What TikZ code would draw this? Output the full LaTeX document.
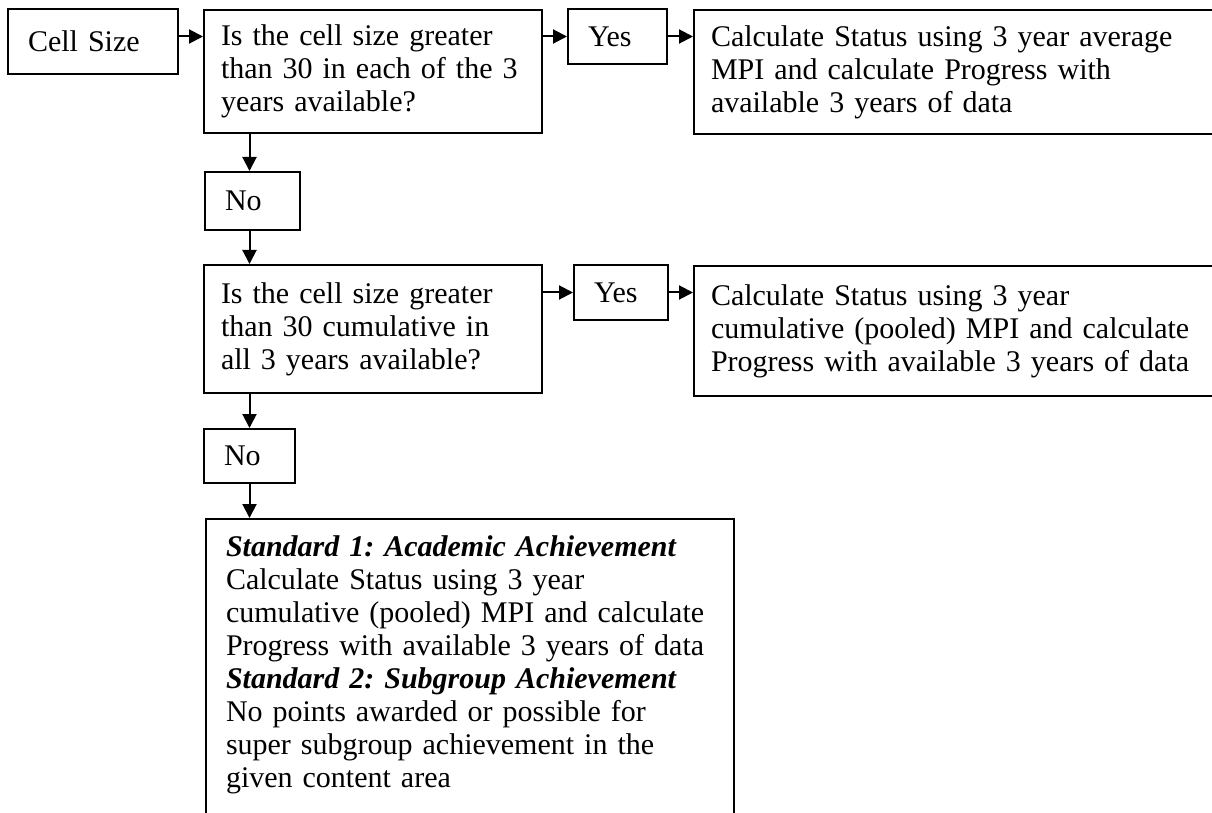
\documentclass[tikz,border=0pt]{standalone}
\usepackage{fontspec}
\setmainfont{Liberation Serif}
\usetikzlibrary{arrows.meta}
\frenchspacing
\hyphenpenalty=10000
\exhyphenpenalty=10000

\begin{document}
\begin{tikzpicture}[x=0.5pt,y=-0.5pt,
  box/.style={draw,line width=1pt,anchor=north west,align=left,inner xsep=10pt,inner ysep=0pt,font=\fontsize{15pt}{16.5pt}\selectfont},
  arr/.style={line width=1pt,-{Triangle[length=7pt,width=7pt]}}]
\useasboundingbox (0,0) rectangle (1212,813);
\clip (0,0) rectangle (1212,813);
\node[box,text width=65pt,minimum height=32.5pt] (cs) at (7,8) {Cell Size};
\node[box,inner xsep=8.5pt,text width=152pt,minimum height=61.5pt] (q1) at (203,9) {Is the cell size greater\\ than 30 in each of the 3\\ years available?};
\node[box,text width=29.5pt,minimum height=27.5pt] (y1) at (567,8) {Yes};
\node[box,inner xsep=8.5pt,text width=262pt,minimum height=62pt] (r1) at (693,9) {Calculate Status using 3 year average\\ MPI and calculate Progress with\\ available 3 years of data};
\node[box,text width=27.5pt,minimum height=29pt] (n1) at (204,171) {No};
\node[box,inner xsep=8.5pt,text width=152pt,minimum height=64pt] (q2) at (203,264) {Is the cell size greater\\ than 30 cumulative in\\ all 3 years available?};
\node[box,text width=27pt,minimum height=27.5pt] (y2) at (573,264) {Yes};
\node[box,inner xsep=8.5pt,text width=262pt,minimum height=65pt] (r2) at (693,265) {Calculate Status using 3 year\\ cumulative (pooled) MPI and calculate\\ Progress with available 3 years of data};
\node[box,text width=25.5pt,minimum height=27pt] (n2) at (203,428) {No};
\node[box,text width=244pt,inner ysep=8.5pt,text depth=140pt] (out) at (205,518) {\textbf{\textit{Standard 1: Academic Achievement}}\\ Calculate Status using 3 year\\ cumulative (pooled) MPI and calculate\\ Progress with available 3 years of data\\ \textbf{\textit{Standard 2: Subgroup Achievement}}\\ No points awarded or possible for\\ super subgroup achievement in the\\ given content area};
% yes branches
\draw[arr] (cs.east |- y1.west) -- (q1.west |- y1.west);
\draw[arr] (q1.east |- y1.west) -- (y1.west);
\draw[arr] (y1.east) -- (r1.west |- y1.east);
\draw[arr] (q2.east |- y2.west) -- (y2.west);
\draw[arr] (y2.east) -- (r2.west |- y2.east);
% no branches
\foreach \a/\b in {q1/n1,n1/q2,q2/n2,n2/out}
  \draw[arr] (\a.south -| n2.south) -- (\b.north -| n2.south);
\end{tikzpicture}
\end{document}
